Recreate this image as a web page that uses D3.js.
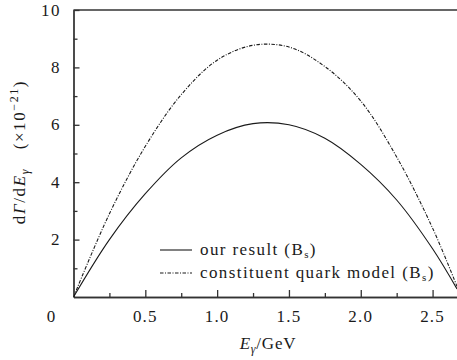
<!DOCTYPE html>
<html>
<head>
<meta charset="utf-8">
<script src="https://cdn.jsdelivr.net/npm/d3@7"></script>
<style>
  html, body { margin: 0; padding: 0; background: #fff; }
  svg { display: block; }
  svg text { font-family: "Liberation Serif", "DejaVu Serif", serif; }
</style>
</head>
<body>
<div id="chart"></div>
<script>
// photon energy samples (GeV)
var energies = [0, 0.25, 0.5, 0.75, 1.0, 1.25, 1.5, 1.75, 2.0, 2.25, 2.5, 2.67];
// dGamma/dE, units of 1e-21
var ourResult = [0, 2.0, 3.6, 4.85, 5.64, 6.04, 6.0, 5.53, 4.62, 3.38, 1.68, 0.28];
var quarkModel = [0, 2.9, 5.25, 7.05, 8.25, 8.77, 8.71, 8.03, 6.83, 4.88, 2.4, 0.37];
var xMajorTicks = [0.5, 1.0, 1.5, 2.0, 2.5];
var xMinorTicks = [0.25, 0.75, 1.25, 1.75, 2.25];
var yMajorTicks = [2, 4, 6, 8, 10];
var yMinorTicks = [1, 3, 5, 7, 9];

var attrs = {
  svgWidth: 457,
  svgHeight: 360,
  left: 73.5,
  right: 457,
  top: 10,
  bottom: 297,
  fontSize: 17,
  ink: '#1a1a1a',
  axisInk: '#333'
};

var svg = d3.select('#chart').append('svg')
  .attr('width', attrs.svgWidth)
  .attr('height', attrs.svgHeight);

var x = d3.scaleLinear().domain([0, 2.67]).range([attrs.left, attrs.right]);
var y = d3.scaleLinear().domain([0, 10]).range([attrs.bottom, attrs.top]);

// axes (ticks point inwards)
function styleAxis(g) {
  g.selectAll('path, line').attr('stroke', attrs.axisInk).attr('stroke-width', 1.3);
  g.selectAll('text').remove();
}

svg.append('g')
  .attr('transform', 'translate(0,' + attrs.bottom + ')')
  .call(d3.axisBottom(x).tickValues(xMajorTicks).tickSizeInner(-7).tickSizeOuter(0))
  .call(styleAxis);
svg.append('g')
  .attr('transform', 'translate(0,' + attrs.bottom + ')')
  .call(d3.axisBottom(x).tickValues(xMinorTicks).tickSizeInner(-4).tickSizeOuter(0))
  .call(styleAxis);
svg.append('g')
  .attr('transform', 'translate(' + attrs.left + ',0)')
  .call(d3.axisLeft(y).tickValues(yMajorTicks).tickSizeInner(-6).tickSizeOuter(0))
  .call(styleAxis);
svg.append('g')
  .attr('transform', 'translate(' + attrs.left + ',0)')
  .call(d3.axisLeft(y).tickValues(yMinorTicks).tickSizeInner(-4).tickSizeOuter(0))
  .call(styleAxis);

// top frame
svg.append('line')
  .attr('x1', attrs.left).attr('x2', attrs.right)
  .attr('y1', y(10)).attr('y2', y(10))
  .attr('stroke', attrs.axisInk).attr('stroke-width', 1.3);

// tick labels
svg.append('g').selectAll('text').data(xMajorTicks).join('text')
  .attr('x', d => x(d)).attr('y', 322)
  .attr('text-anchor', 'middle')
  .attr('font-size', attrs.fontSize).attr('letter-spacing', 1.2)
  .attr('fill', attrs.ink)
  .text(d => d.toFixed(1));
svg.append('text')
  .attr('x', 51).attr('y', 322)
  .attr('text-anchor', 'middle')
  .attr('font-size', attrs.fontSize).attr('fill', attrs.ink)
  .text('0');
svg.append('g').selectAll('text').data(yMajorTicks).join('text')
  .attr('x', 61).attr('y', d => y(d) + 5.5)
  .attr('text-anchor', 'end')
  .attr('font-size', attrs.fontSize).attr('letter-spacing', 1.5)
  .attr('fill', attrs.ink)
  .text(d => d);

// axis titles
var xt = svg.append('text')
  .attr('x', 268).attr('y', 349)
  .attr('text-anchor', 'middle')
  .attr('font-size', attrs.fontSize).attr('letter-spacing', 0.8)
  .attr('fill', attrs.ink);
xt.append('tspan').attr('font-style', 'italic').text('E');
xt.append('tspan').attr('font-style', 'italic').attr('font-size', 12).attr('dy', 4).text('γ');
xt.append('tspan').attr('dy', -4).text('/GeV');

var yt = svg.append('text')
  .attr('transform', 'translate(25,152) rotate(-90)')
  .attr('text-anchor', 'middle')
  .attr('font-size', attrs.fontSize).attr('letter-spacing', 1.6)
  .attr('fill', attrs.ink);
yt.append('tspan').text('d');
yt.append('tspan').attr('font-style', 'italic').text('Γ');
yt.append('tspan').text('/d');
yt.append('tspan').attr('font-style', 'italic').text('E');
yt.append('tspan').attr('font-style', 'italic').attr('font-size', 12).attr('dy', 4).text('γ');
yt.append('tspan').attr('dy', -4).text('\u2003(\u00d710');
yt.append('tspan').attr('font-size', 12).attr('dy', -7).text('\u221221');
yt.append('tspan').attr('dy', 7).text(')');

// curves
var series = [
  { name: 'our result', values: ourResult, dash: null },
  { name: 'constituent quark model', values: quarkModel, dash: '3.5,1.5,1,1.5' }
];

var line = d3.line()
  .x((d, i) => x(energies[i]))
  .y(d => y(d))
  .curve(d3.curveCatmullRom.alpha(0.5));

svg.append('defs').append('clipPath').attr('id', 'plot-clip')
  .append('rect')
  .attr('x', attrs.left).attr('y', attrs.top)
  .attr('width', attrs.right - attrs.left).attr('height', attrs.bottom - attrs.top);

svg.append('g').attr('clip-path', 'url(#plot-clip)')
  .selectAll('path').data(series).join('path')
  .attr('d', d => line(d.values))
  .attr('fill', 'none')
  .attr('stroke', attrs.ink)
  .attr('stroke-width', 1.1)
  .attr('stroke-dasharray', d => d.dash);

// legend
var legend = svg.append('g').selectAll('g').data(series).join('g')
  .attr('transform', (d, i) => 'translate(160,' + (250 + i * 23) + ')');
legend.append('line')
  .attr('x1', 0).attr('x2', 32)
  .attr('stroke', attrs.ink).attr('stroke-width', 1.1)
  .attr('stroke-dasharray', d => d.dash);
var lt = legend.append('text')
  .attr('x', 40).attr('y', 5)
  .attr('font-size', attrs.fontSize).attr('letter-spacing', 1.4)
  .attr('fill', attrs.ink);
lt.append('tspan').text(d => d.name + ' (B');
lt.append('tspan').attr('font-size', 11).attr('dy', 3).text('s');
lt.append('tspan').attr('dy', -3).text(')');
</script>
</body>
</html>
